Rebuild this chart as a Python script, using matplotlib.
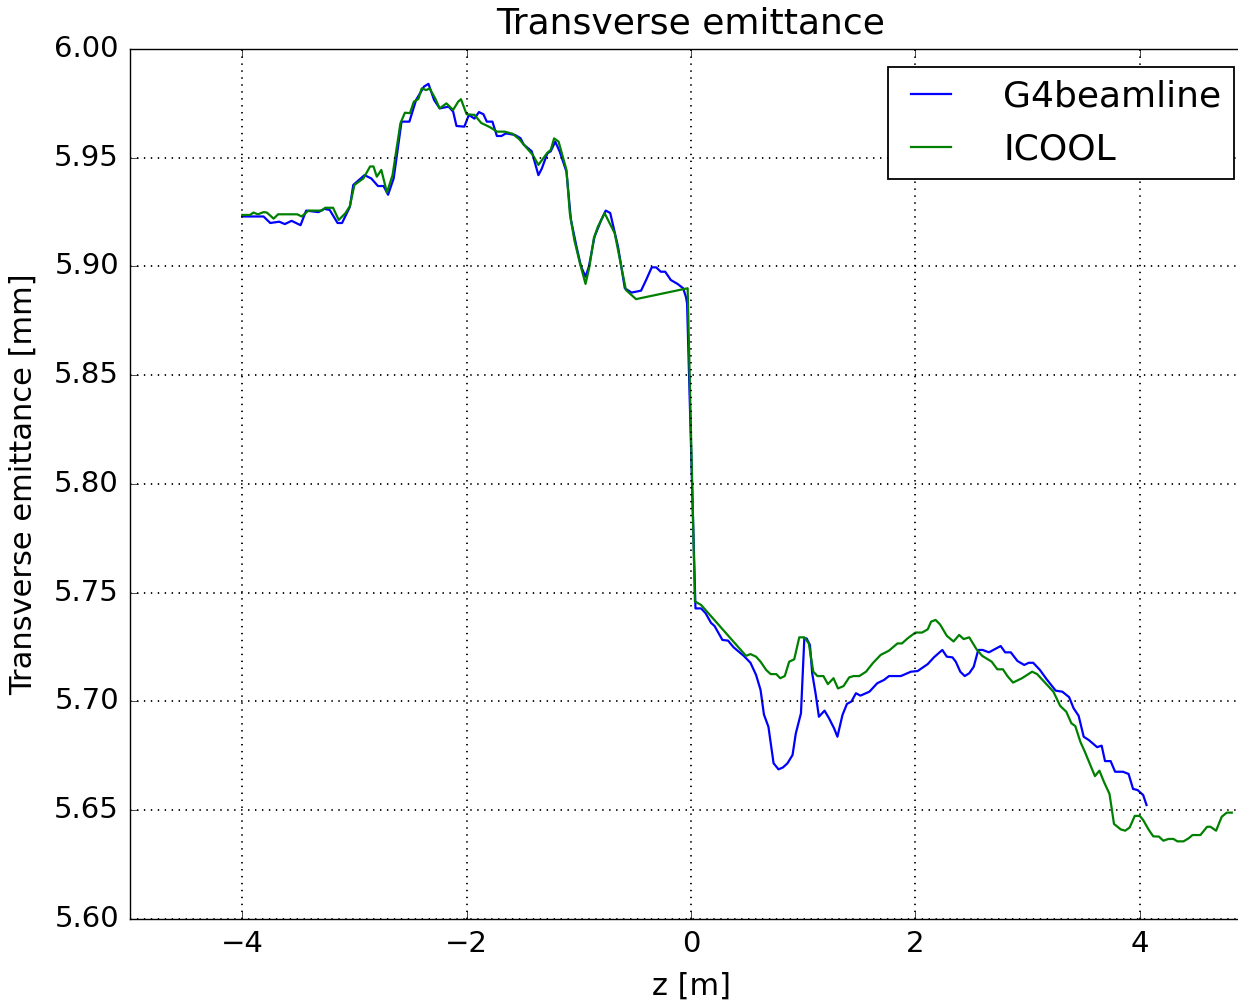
import matplotlib
matplotlib.use("Agg")
import matplotlib.pyplot as plt
from matplotlib.ticker import FormatStrFormatter

plt.style.use("classic")

# G4beamline curve
g4_z = [-4.0, -3.81, -3.75, -3.67, -3.62, -3.56, -3.48, -3.43, -3.32, -3.27,
        -3.22, -3.15, -3.11, -3.04, -3.01, -2.91, -2.85, -2.79, -2.74, -2.70,
        -2.65, -2.58, -2.51, -2.45, -2.38, -2.34, -2.29, -2.24, -2.16, -2.12,
        -2.09, -2.02, -1.98, -1.93, -1.89, -1.85, -1.82, -1.77, -1.73, -1.69,
        -1.65, -1.57, -1.52, -1.49, -1.42, -1.36, -1.33, -1.28, -1.25, -1.21,
        -1.17, -1.11, -1.07, -1.02, -0.98, -0.94, -0.91, -0.86, -0.80, -0.76,
        -0.72, -0.65, -0.59, -0.53, -0.445, -0.40, -0.35, -0.31, -0.27, -0.23,
        -0.18, -0.12, -0.07, -0.045, -0.035, 0.04, 0.09, 0.13, 0.178, 0.21,
        0.28, 0.33, 0.38, 0.47, 0.53, 0.58, 0.62, 0.65, 0.69, 0.736,
        0.78, 0.82, 0.86, 0.905, 0.934, 0.98, 1.01, 1.03, 1.06, 1.08,
        1.11, 1.14, 1.19, 1.23, 1.275, 1.305, 1.35, 1.39, 1.43, 1.47,
        1.51, 1.59, 1.66, 1.72, 1.765, 1.87, 1.96, 2.02, 2.11, 2.165,
        2.24, 2.28, 2.33, 2.36, 2.40, 2.44, 2.48, 2.52, 2.56, 2.60,
        2.655, 2.76, 2.80, 2.85, 2.91, 2.97, 3.01, 3.05, 3.11, 3.17,
        3.25, 3.31, 3.37, 3.41, 3.455, 3.50, 3.545, 3.62, 3.66, 3.69,
        3.74, 3.78, 3.85, 3.90, 3.94, 3.98, 4.03, 4.06]
g4_emit = [5.923, 5.923, 5.920, 5.9206, 5.9195, 5.921, 5.919, 5.9257, 5.925, 5.9265,
           5.926, 5.920, 5.920, 5.9275, 5.9375, 5.942, 5.9405, 5.937, 5.937, 5.933,
           5.9405, 5.9666, 5.9666, 5.9766, 5.9827, 5.984, 5.9766, 5.9727, 5.9735, 5.9712,
           5.9646, 5.9643, 5.9697, 5.968, 5.971, 5.970, 5.9666, 5.9666, 5.960, 5.960,
           5.9612, 5.9605, 5.959, 5.956, 5.953, 5.942, 5.945, 5.952, 5.953, 5.9574,
           5.9528, 5.9436, 5.9214, 5.909, 5.900, 5.8953, 5.900, 5.9137, 5.9214, 5.9257,
           5.9246, 5.909, 5.890, 5.888, 5.8889, 5.8938, 5.8996, 5.8996, 5.8976, 5.8976,
           5.8938, 5.892, 5.890, 5.886, 5.883, 5.7428, 5.7428, 5.7406, 5.7362, 5.7347,
           5.7283, 5.728, 5.7249, 5.721, 5.7178, 5.7122, 5.7053, 5.694, 5.6884, 5.6716,
           5.6688, 5.6697, 5.6716, 5.6754, 5.6853, 5.6946, 5.729, 5.729, 5.726, 5.713,
           5.7038, 5.693, 5.6958, 5.6923, 5.6877, 5.6838, 5.6938, 5.6989, 5.700, 5.7038,
           5.7027, 5.7045, 5.7084, 5.7099, 5.7117, 5.7117, 5.7137, 5.714, 5.7172, 5.7203,
           5.7237, 5.7206, 5.7203, 5.7183, 5.7137, 5.7117, 5.713, 5.716, 5.7237, 5.7237,
           5.7226, 5.7255, 5.7226, 5.7226, 5.7186, 5.7168, 5.7178, 5.7178, 5.7145, 5.7102,
           5.705, 5.7045, 5.702, 5.6969, 5.6934, 5.6838, 5.6823, 5.679, 5.6797, 5.6726,
           5.6726, 5.6677, 5.6677, 5.6667, 5.6598, 5.6593, 5.657, 5.6524]

# ICOOL curve
icool_z = [-4.0, -3.93, -3.90, -3.86, -3.81, -3.78, -3.72, -3.68, -3.51, -3.47,
           -3.41, -3.29, -3.26, -3.19, -3.14, -3.08, -3.04, -3.00, -2.92, -2.86,
           -2.83, -2.80, -2.76, -2.71, -2.66, -2.59, -2.55, -2.505, -2.47, -2.43,
           -2.40, -2.36, -2.33, -2.28, -2.24, -2.18, -2.12, -2.075, -2.05, -2.0,
           -1.93, -1.87, -1.79, -1.73, -1.66, -1.59, -1.53, -1.48, -1.41, -1.36,
           -1.28, -1.25, -1.22, -1.18, -1.11, -1.08, -1.04, -0.99, -0.94, -0.905,
           -0.866, -0.83, -0.77, -0.68, -0.63, -0.58, -0.49, -0.03, 0.035, 0.09,
           0.49, 0.53, 0.58, 0.62, 0.67, 0.71, 0.76, 0.795, 0.836, 0.875,
           0.92, 0.965, 1.01, 1.05, 1.09, 1.127, 1.18, 1.22, 1.27, 1.31,
           1.36, 1.41, 1.45, 1.50, 1.56, 1.62, 1.69, 1.765, 1.84, 1.88,
           1.93, 2.0, 2.06, 2.11, 2.14, 2.18, 2.22, 2.28, 2.34, 2.39,
           2.43, 2.48, 2.545, 2.595, 2.68, 2.73, 2.78, 2.82, 2.87, 2.95,
           3.04, 3.085, 3.16, 3.23, 3.29, 3.345, 3.39, 3.425, 3.47, 3.51,
           3.60, 3.64, 3.68, 3.73, 3.77, 3.83, 3.87, 3.91, 3.955, 4.0,
           4.03, 4.08, 4.12, 4.17, 4.21, 4.255, 4.30, 4.335, 4.39, 4.435,
           4.47, 4.54, 4.60, 4.63, 4.68, 4.73, 4.775, 4.82]
icool_emit = [5.9237, 5.9237, 5.9248, 5.924, 5.925, 5.9248, 5.922, 5.924, 5.924, 5.923,
              5.9257, 5.9257, 5.927, 5.927, 5.9214, 5.9245, 5.9278, 5.9375, 5.9405, 5.946,
              5.946, 5.9413, 5.9444, 5.934, 5.942, 5.9658, 5.9707, 5.9705, 5.9758, 5.977,
              5.9819, 5.9811, 5.9819, 5.9773, 5.9727, 5.975, 5.972, 5.9758, 5.9769, 5.970,
              5.9697, 5.966, 5.964, 5.962, 5.962, 5.961, 5.9585, 5.9554, 5.9513, 5.9467,
              5.9523, 5.9536, 5.9589, 5.9574, 5.9444, 5.9245, 5.9122, 5.9015, 5.892, 5.900,
              5.913, 5.9183, 5.9245, 5.9153, 5.9022, 5.8892, 5.885, 5.890, 5.746, 5.7444,
              5.721, 5.7218, 5.7206, 5.7183, 5.7145, 5.7126, 5.7126, 5.7107, 5.7117, 5.7183,
              5.7194, 5.7295, 5.7295, 5.7267, 5.7137, 5.7117, 5.7117, 5.708, 5.7107, 5.706,
              5.7071, 5.7111, 5.7117, 5.7117, 5.7137, 5.7176, 5.7214, 5.7234, 5.7267, 5.7267,
              5.729, 5.7317, 5.7317, 5.7332, 5.7367, 5.7375, 5.7354, 5.7302, 5.7276, 5.7306,
              5.7287, 5.7295, 5.724, 5.721, 5.7183, 5.7148, 5.7148, 5.7117, 5.7087, 5.7107,
              5.7137, 5.7126, 5.7084, 5.7045, 5.698, 5.6953, 5.69, 5.6887, 5.6815, 5.6769,
              5.6657, 5.6682, 5.6631, 5.6575, 5.6437, 5.6412, 5.6406, 5.6421, 5.6474, 5.6474,
              5.6455, 5.641, 5.638, 5.6379, 5.636, 5.6368, 5.6368, 5.6357, 5.6357, 5.6371,
              5.6386, 5.6386, 5.6424, 5.6424, 5.6406, 5.647, 5.6489, 5.6489]

fig = plt.figure(figsize=(12.38, 10.01), dpi=100, facecolor="white")
# right spine sits just past the image edge, like the cropped original
ax = fig.add_axes([130 / 1238, 82 / 1001, 1122 / 1238, 870 / 1001])

ax.plot(g4_z, g4_emit, color="b", lw=1.6, label="G4beamline")
ax.plot(icool_z, icool_emit, color="g", lw=1.6, label="ICOOL")

ax.set_xlim(-5, 5)
ax.set_ylim(5.60, 6.00)
ax.set_xticks([-4, -2, 0, 2, 4])
ax.set_yticks([5.60, 5.65, 5.70, 5.75, 5.80, 5.85, 5.90, 5.95, 6.00])
ax.yaxis.set_major_formatter(FormatStrFormatter("%.2f"))
ax.tick_params(labelsize=21, pad=8, length=6)
ax.grid(True, color="black", lw=1.3, linestyle=(0, (1, 4)))

ax.set_title("Transverse emittance", fontsize=26, pad=11)
ax.set_xlabel("z [m]", fontsize=22, labelpad=10)
ax.set_ylabel("Transverse emittance [mm]", fontsize=22, labelpad=12)
leg = ax.legend(loc="upper right", fontsize=26, handlelength=1.7,
                handletextpad=1.15, borderpad=0.35, labelspacing=0.52)
leg.get_frame().set_linewidth(1.3)

fig.savefig("out.png", dpi=100, facecolor="white")
